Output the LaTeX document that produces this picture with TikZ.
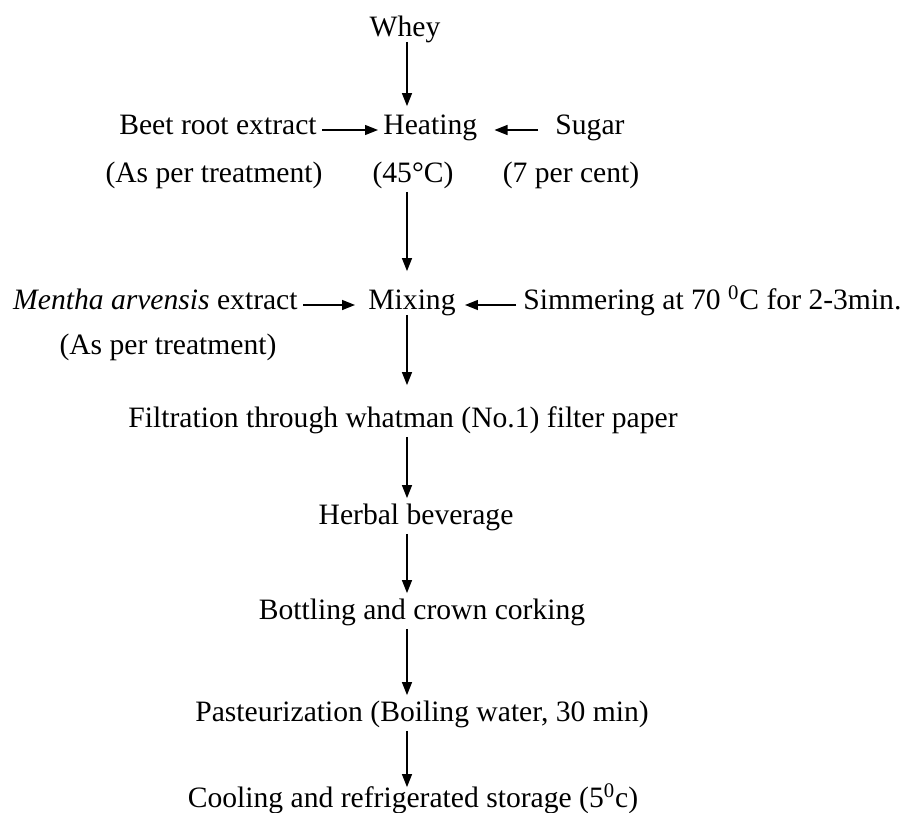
\documentclass[tikz,border=0pt]{standalone}
\usepackage{fontspec}
\setmainfont{Liberation Serif}
\usetikzlibrary{arrows.meta}
\begin{document}
\begin{tikzpicture}[x=0.5pt,y=-0.5pt,
    stage/.style={inner xsep=2.5pt,inner ysep=0pt,text height=0.7em,text depth=0.25em,
      font=\fontsize{14.8}{18}\selectfont},
    flow/.style={-{Triangle[length=6.5pt,width=5pt]},line width=0.7pt}]
  \useasboundingbox (0,0) rectangle (906,813);
  \coordinate (axis) at (407,0);
  % Main line
  \node[stage] (whey) at (405,32) {Whey};
  \node[stage,anchor=west] (heating) at (378,130) {Heating};
  \node[stage] (deg) at (413,178) {(45°C)};
  \node[stage] (mixing) at (412,305) {Mixing};
  \node[stage] (filter) at (403,423) {Filtration through whatman (No.1) filter paper};
  \node[stage] (herbal) at (416,520) {Herbal beverage};
  \node[stage] (bottle) at (422,615) {Bottling and crown corking};
  \node[stage] (pasteur) at (422,717) {Pasteurization (Boiling water, 30 min)};
  \node[stage] (cool) at (413,803) {Cooling and refrigerated storage (5\textsuperscript{0}c)};
  % Side inputs
  \node[stage,anchor=east] (beet) at (322,130) {Beet root extract};
  \node[stage] (beetnote) at (214,178) {(As per treatment)};
  \node[stage] (sugar) at (590,130) {Sugar};
  \node[stage] (sugarnote) at (571,178) {(7 per cent)};
  \node[stage,anchor=east] (mentha) at (303,305) {\textit{Mentha arvensis} extract};
  \node[stage] (menthanote) at (168,350) {(As per treatment)};
  \node[stage,anchor=west] (simmer) at (518,305) {Simmering at 70 \textsuperscript{0}C for 2-3min.};
  % Arrows
  \draw[flow,shorten >=7pt] (whey.south -| axis) -- (heating.north -| axis);
  \draw[flow] (beet) -- (heating);
  \draw[flow,shorten <=6pt,shorten >=6pt] (sugar) -- (heating);
  \draw[flow,shorten <=2pt,shorten >=12pt] (deg.south -| axis) -- (mixing.north -| axis);
  \draw[flow,shorten >=4pt] (mentha) -- (mixing);
  \draw[flow,shorten <=1pt,shorten >=2pt] (simmer) -- (mixing);
  \draw[flow,shorten >=14pt] (mixing.south -| axis) -- (filter.north -| axis);
  \draw[flow,shorten <=2pt,shorten >=6pt] (filter.south -| axis) -- (herbal.north -| axis);
  \draw[flow,shorten <=2pt,shorten >=6pt] (herbal.south -| axis) -- (bottle.north -| axis);
  \draw[flow,shorten <=2pt,shorten >=6pt] (bottle.south -| axis) -- (pasteur.north -| axis);
  \draw[flow,shorten <=2pt,shorten >=3pt] (pasteur.south -| axis) -- (cool.north -| axis);
\end{tikzpicture}
\end{document}
